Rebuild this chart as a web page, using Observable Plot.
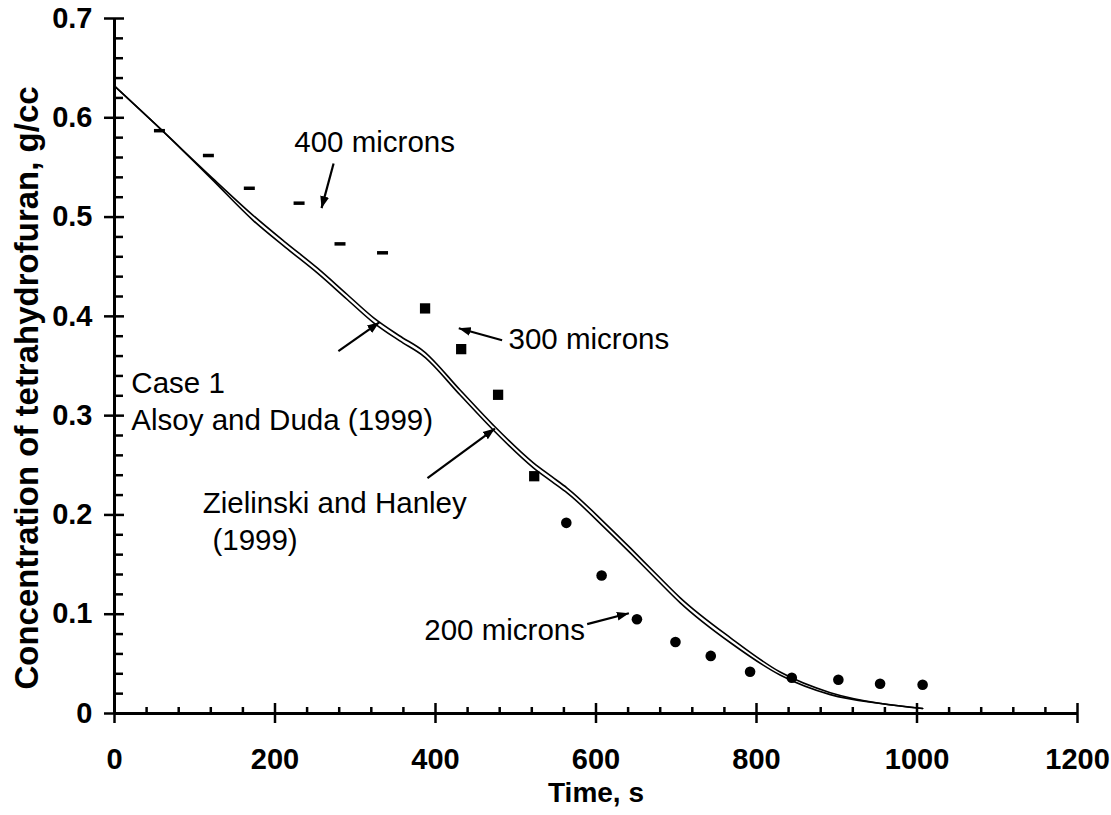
<!DOCTYPE html>
<html>
<head>
<meta charset="utf-8">
<script src="https://cdn.jsdelivr.net/npm/d3@7"></script>
<script src="https://cdn.jsdelivr.net/npm/@observablehq/plot@0.6"></script>
<style>
  html, body { margin: 0; padding: 0; background: white; }
  #chart { width: 1111px; height: 815px; }
  g[aria-label="x-axis tick label"] text, g[aria-label="y-axis tick label"] text { font-weight: bold; }
</style>
</head>
<body>
<div id="chart"></div>
<script>
// ---- data ----
const dashTime = [56, 117, 168, 230, 281, 334];            // 400 microns
const dashConc = [0.587, 0.562, 0.529, 0.514, 0.473, 0.464];
const squareTime = [387, 432, 478, 523];                     // 300 microns
const squareConc = [0.408, 0.367, 0.321, 0.239];
const circleTime = [563, 607, 651, 699, 743, 792, 844, 902, 954, 1007]; // 200 microns
const circleConc = [0.192, 0.139, 0.095, 0.072, 0.058, 0.042, 0.036, 0.034, 0.030, 0.029];

const modelTime = [0, 57, 120, 173, 213, 253, 290, 323, 355, 385, 431, 472, 522, 545, 564, 614, 643, 675, 705, 768, 830, 892, 955, 1007];
const zielinskiConc = [0.632, 0.589, 0.5408, 0.5015, 0.4745, 0.4485, 0.4220, 0.3985, 0.3805, 0.365, 0.3255, 0.2905, 0.2525, 0.2385, 0.2271, 0.1895, 0.1665, 0.1405, 0.1165, 0.076, 0.0415, 0.021, 0.010, 0.005];
const alsoyConc = [0.632, 0.589, 0.5392, 0.4965, 0.4695, 0.4435, 0.4170, 0.3935, 0.3755, 0.360, 0.3205, 0.2855, 0.2475, 0.2335, 0.2221, 0.1845, 0.1615, 0.1355, 0.1115, 0.071, 0.0385, 0.019, 0.010, 0.005];

const xTicks = [0, 200, 400, 600, 800, 1000, 1200];
const yTicks = [0, 0.1, 0.2, 0.3, 0.4, 0.5, 0.6, 0.7];
const xMinor = d3.range(0, 1201, 40).filter(v => v % 200 !== 0);
const yMinor = d3.range(0, 36).map(i => +(i * 0.02).toFixed(2)).filter(v => Math.abs(v * 10 - Math.round(v * 10)) > 1e-6 && v <= 0.7);

const labels = [
  {text: "400 microns", t: 224, c: 0.575},
  {text: "300 microns", t: 491, c: 0.377},
  {text: "Case 1", t: 21, c: 0.332},
  {text: "Alsoy and Duda (1999)", t: 21, c: 0.295},
  {text: "Zielinski and Hanley", t: 110, c: 0.2115},
  {text: "(1999)", t: 122, c: 0.174},
  {text: "200 microns", t: 386, c: 0.084}
];
const arrows = [
  {t1: 273, c1: 0.554, t2: 258, c2: 0.509},
  {t1: 483, c1: 0.376, t2: 429, c2: 0.388},
  {t1: 279, c1: 0.365, t2: 330, c2: 0.394},
  {t1: 390, c1: 0.237, t2: 474, c2: 0.287},
  {t1: 589, c1: 0.090, t2: 641, c2: 0.101}
];

// ---- tables ----
const dashes = dashTime.map((t, i) => ({t, c: dashConc[i]}));
const squares = squareTime.map((t, i) => ({t, c: squareConc[i]}));
const circles = circleTime.map((t, i) => ({t, c: circleConc[i]}));
const zielinski = modelTime.map((t, i) => ({t, c: zielinskiConc[i]}));
const alsoy = modelTime.map((t, i) => ({t, c: alsoyConc[i]}));

const dashSymbol = {draw(context) { context.rect(-5.5, -1.75, 11, 3.5); }};

function filledArrow(color) {
  const ns = "http://www.w3.org/2000/svg";
  const m = document.createElementNS(ns, "marker");
  m.setAttribute("viewBox", "-12 -5 12 10");
  m.setAttribute("markerWidth", "12");
  m.setAttribute("markerHeight", "10");
  m.setAttribute("markerUnits", "userSpaceOnUse");
  m.setAttribute("orient", "auto");
  m.setAttribute("refX", "0");
  m.setAttribute("refY", "0");
  const p = document.createElementNS(ns, "path");
  p.setAttribute("d", "M-12,-4.5L0,0L-12,4.5Z");
  p.setAttribute("fill", color);
  p.setAttribute("stroke", "none");
  m.appendChild(p);
  return m;
}

function build(useMarker) {
  const arrowMark = useMarker
    ? Plot.link(arrows, {x1: "t1", y1: "c1", x2: "t2", y2: "c2", stroke: "black", strokeWidth: 2.2, markerEnd: filledArrow})
    : Plot.arrow(arrows, {x1: "t1", y1: "c1", x2: "t2", y2: "c2", stroke: "black", strokeWidth: 2.4, headLength: 10, headAngle: 50});
  return Plot.plot({
    width: 1111,
    height: 815,
    marginLeft: 114,
    marginRight: 34,
    marginTop: 18,
    marginBottom: 102,
    x: {domain: [0, 1200]},
    y: {domain: [0, 0.7]},
    style: {fontFamily: "'Liberation Sans', Arial, sans-serif", background: "white", color: "black", overflow: "visible"},
    marks: [
      Plot.axisX({ticks: xTicks, tickSize: 0, tickPadding: 35, fontSize: 29, fontWeight: "bold", label: null, tickFormat: d => String(d)}),
      Plot.axisY({ticks: yTicks, tickSize: 0, tickPadding: 22, fontSize: 29, fontWeight: "bold", label: null, tickFormat: d => d === 0 ? "0" : d.toFixed(1)}),
      Plot.text(["Time, s"], {frameAnchor: "bottom", dy: 80, lineAnchor: "middle", textAnchor: "middle", fontSize: 28, fontWeight: "bold"}),
      Plot.text(["Concentration of tetrahydrofuran, g/cc"], {frameAnchor: "left", dx: -87, dy: 22, rotate: -90, lineAnchor: "middle", textAnchor: "middle", fontSize: 33, fontWeight: "bold"}),
      Plot.ruleY([0], {stroke: "black", strokeWidth: 3}),
      Plot.ruleX([0], {stroke: "black", strokeWidth: 3}),
      Plot.ruleX(xTicks, {x: d => d, y1: 0, y2: 0, insetTop: -10, insetBottom: -10, stroke: "black", strokeWidth: 2.5}),
      Plot.ruleX(xMinor, {x: d => d, y1: 0, y2: 0, insetTop: -6, insetBottom: 0, stroke: "black", strokeWidth: 2.5}),
      Plot.ruleY(yTicks, {y: d => d, x1: 0, x2: 0, insetLeft: -10, insetRight: -10, stroke: "black", strokeWidth: 2.5}),
      Plot.ruleY(yMinor, {y: d => d, x1: 0, x2: 0, insetLeft: 0, insetRight: -9, stroke: "black", strokeWidth: 2.5}),
      Plot.line(zielinski, {x: "t", y: "c", stroke: "black", strokeWidth: 1.6, curve: "monotone-x"}),
      Plot.line(alsoy, {x: "t", y: "c", stroke: "black", strokeWidth: 1.6, curve: "monotone-x"}),
      Plot.dot(dashes, {x: "t", y: "c", symbol: dashSymbol, r: 4, fill: "black", stroke: "none"}),
      Plot.dot(squares, {x: "t", y: "c", symbol: "square", r: 5.8, fill: "black", stroke: "none"}),
      Plot.dot(circles, {x: "t", y: "c", symbol: "circle", r: 5.3, fill: "black", stroke: "none"}),
      arrowMark,
      Plot.text(labels, {x: "t", y: "c", text: "text", textAnchor: "start", lineAnchor: "middle", fontSize: 29.5, fill: "black"})
    ]
  });
}

let chart;
try { chart = build(true); } catch (e) { console.warn(e); chart = build(false); }
document.getElementById("chart").appendChild(chart);
</script>
</body>
</html>
